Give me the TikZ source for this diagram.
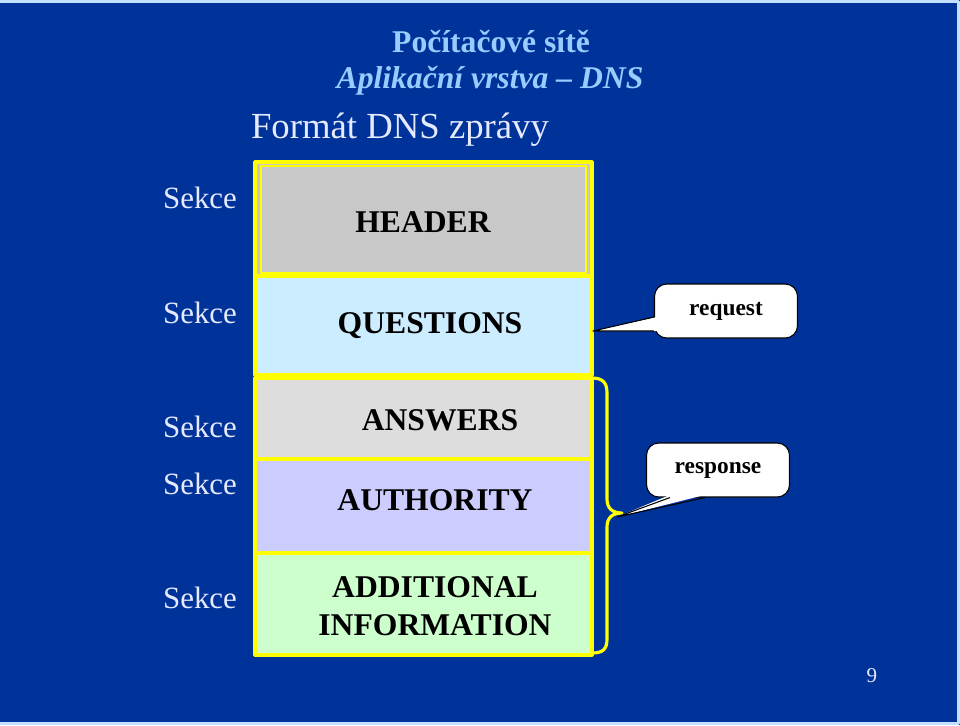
\documentclass[tikz,border=0pt]{standalone}
\usepackage{fontspec}
\setmainfont{Liberation Serif}
\definecolor{slidebg}{HTML}{003399}
\definecolor{titleblue}{HTML}{99CCFF}
\definecolor{palewhite}{HTML}{E6EAFF}
\definecolor{partline}{HTML}{FFFF00}
\definecolor{headerfill}{HTML}{C8C8C8}
\definecolor{questfill}{HTML}{CCECFF}
\definecolor{answerfill}{HTML}{DDDDDD}
\definecolor{authfill}{HTML}{CCCCFF}
\definecolor{addfill}{HTML}{CCFFCC}
\tikzset{
  sekce/.style={text=palewhite, font=\fontsize{17.6}{20}\selectfont},
  boxlabel/.style={font=\bfseries\fontsize{18}{21.5}\selectfont, align=center},
  part/.style={draw=partline, line width=1.8pt},
  bubble/.style={draw=black, fill=white, rounded corners=7pt, line width=0.6pt,
    minimum width=28.6mm, minimum height=10.8mm, font=\bfseries\fontsize{13.3}{15}\selectfont},
}
\begin{document}
\begin{tikzpicture}[x=0.2mm, y=-0.2mm, line join=round]
\useasboundingbox (0,0) rectangle (960,725);
\fill[slidebg] (0,0) rectangle (960,725);
\draw[titleblue!60!white, line width=1.2pt] (0,1.5) -- (958.5,1.5) -- (958.5,723.5) -- (0,723.5);

% titles
\node[text=titleblue, font=\bfseries\fontsize{18}{20}\selectfont] (course) at (491,41) {Počítačové sítě};
\node[text=titleblue, font=\bfseries\itshape\fontsize{18}{20}\selectfont] (chapter) at (490,81) {Aplikační vrstva – DNS};
\node[text=palewhite, font=\fontsize{20.9}{24}\selectfont] (slidetitle) at (400,130) {Formát DNS zprávy};

% message parts
\fill[headerfill] (255,162) rectangle (592,276);
\draw[part] (255,162) rectangle (592,276);
\draw[partline, line width=1pt] (261,166) rectangle (586,273);
\filldraw[part, fill=questfill] (255,276) rectangle (592,375);
\filldraw[part, fill=answerfill] (255,378) rectangle (592,459);
\filldraw[part, fill=authfill] (255,459) rectangle (592,553);
\filldraw[part, fill=addfill] (255,553) rectangle (592,655);

\node[boxlabel] (header) at (423,222) {HEADER};
\node[boxlabel] (questions) at (430,326) {QUESTIONS};
\node[boxlabel] (answers) at (440,420) {ANSWERS};
\node[boxlabel] (authority) at (435,500) {AUTHORITY};
\node[boxlabel] (additional) at (435,606) {ADDITIONAL\\INFORMATION};

% section names
\node[sekce] (sekceA) at (200,198) {Sekce};
\node[sekce] (sekceB) at (200,313) {Sekce};
\node[sekce] (sekceC) at (200,427) {Sekce};
\node[sekce] (sekceD) at (200,484) {Sekce};
\node[sekce] (sekceE) at (200,598) {Sekce};

% brace over the reply sections
\draw[partline, line width=1.8pt] (592,378) .. controls (603,378) and (607,383) .. (607,393)
  -- (607,499) .. controls (607,508) and (612,513) .. (622,513)
  .. controls (612,513) and (607,518) .. (607,527)
  -- (607,639) .. controls (607,649) and (603,653) .. (592,653);

% callouts
\coordinate (reqtip) at (593,331);
\coordinate (resptip) at (617,517);
\node[bubble] (request) at (726,311) {request};
\node[bubble] (response) at (718,470) {response};
\fill[white] ([xshift=1.5pt]request.west |- 0,317) -- (reqtip) -- ([xshift=1.5pt]request.west |- 0,331) -- cycle;
\draw[line width=0.6pt] (request.west |- 0,317) -- (reqtip) -- (request.west |- 0,331);
\fill[white] ([yshift=1.5pt]response.south -| 670,0) -- (resptip) -- ([yshift=1.5pt]response.south -| 705,0) -- cycle;
\draw[line width=0.6pt] (response.south -| 670,0) -- (resptip) -- (response.south -| 705,0);

\node[text=palewhite, font=\fontsize{12}{14}\selectfont] (pagenum) at (872,676) {9};
\end{tikzpicture}
\end{document}
